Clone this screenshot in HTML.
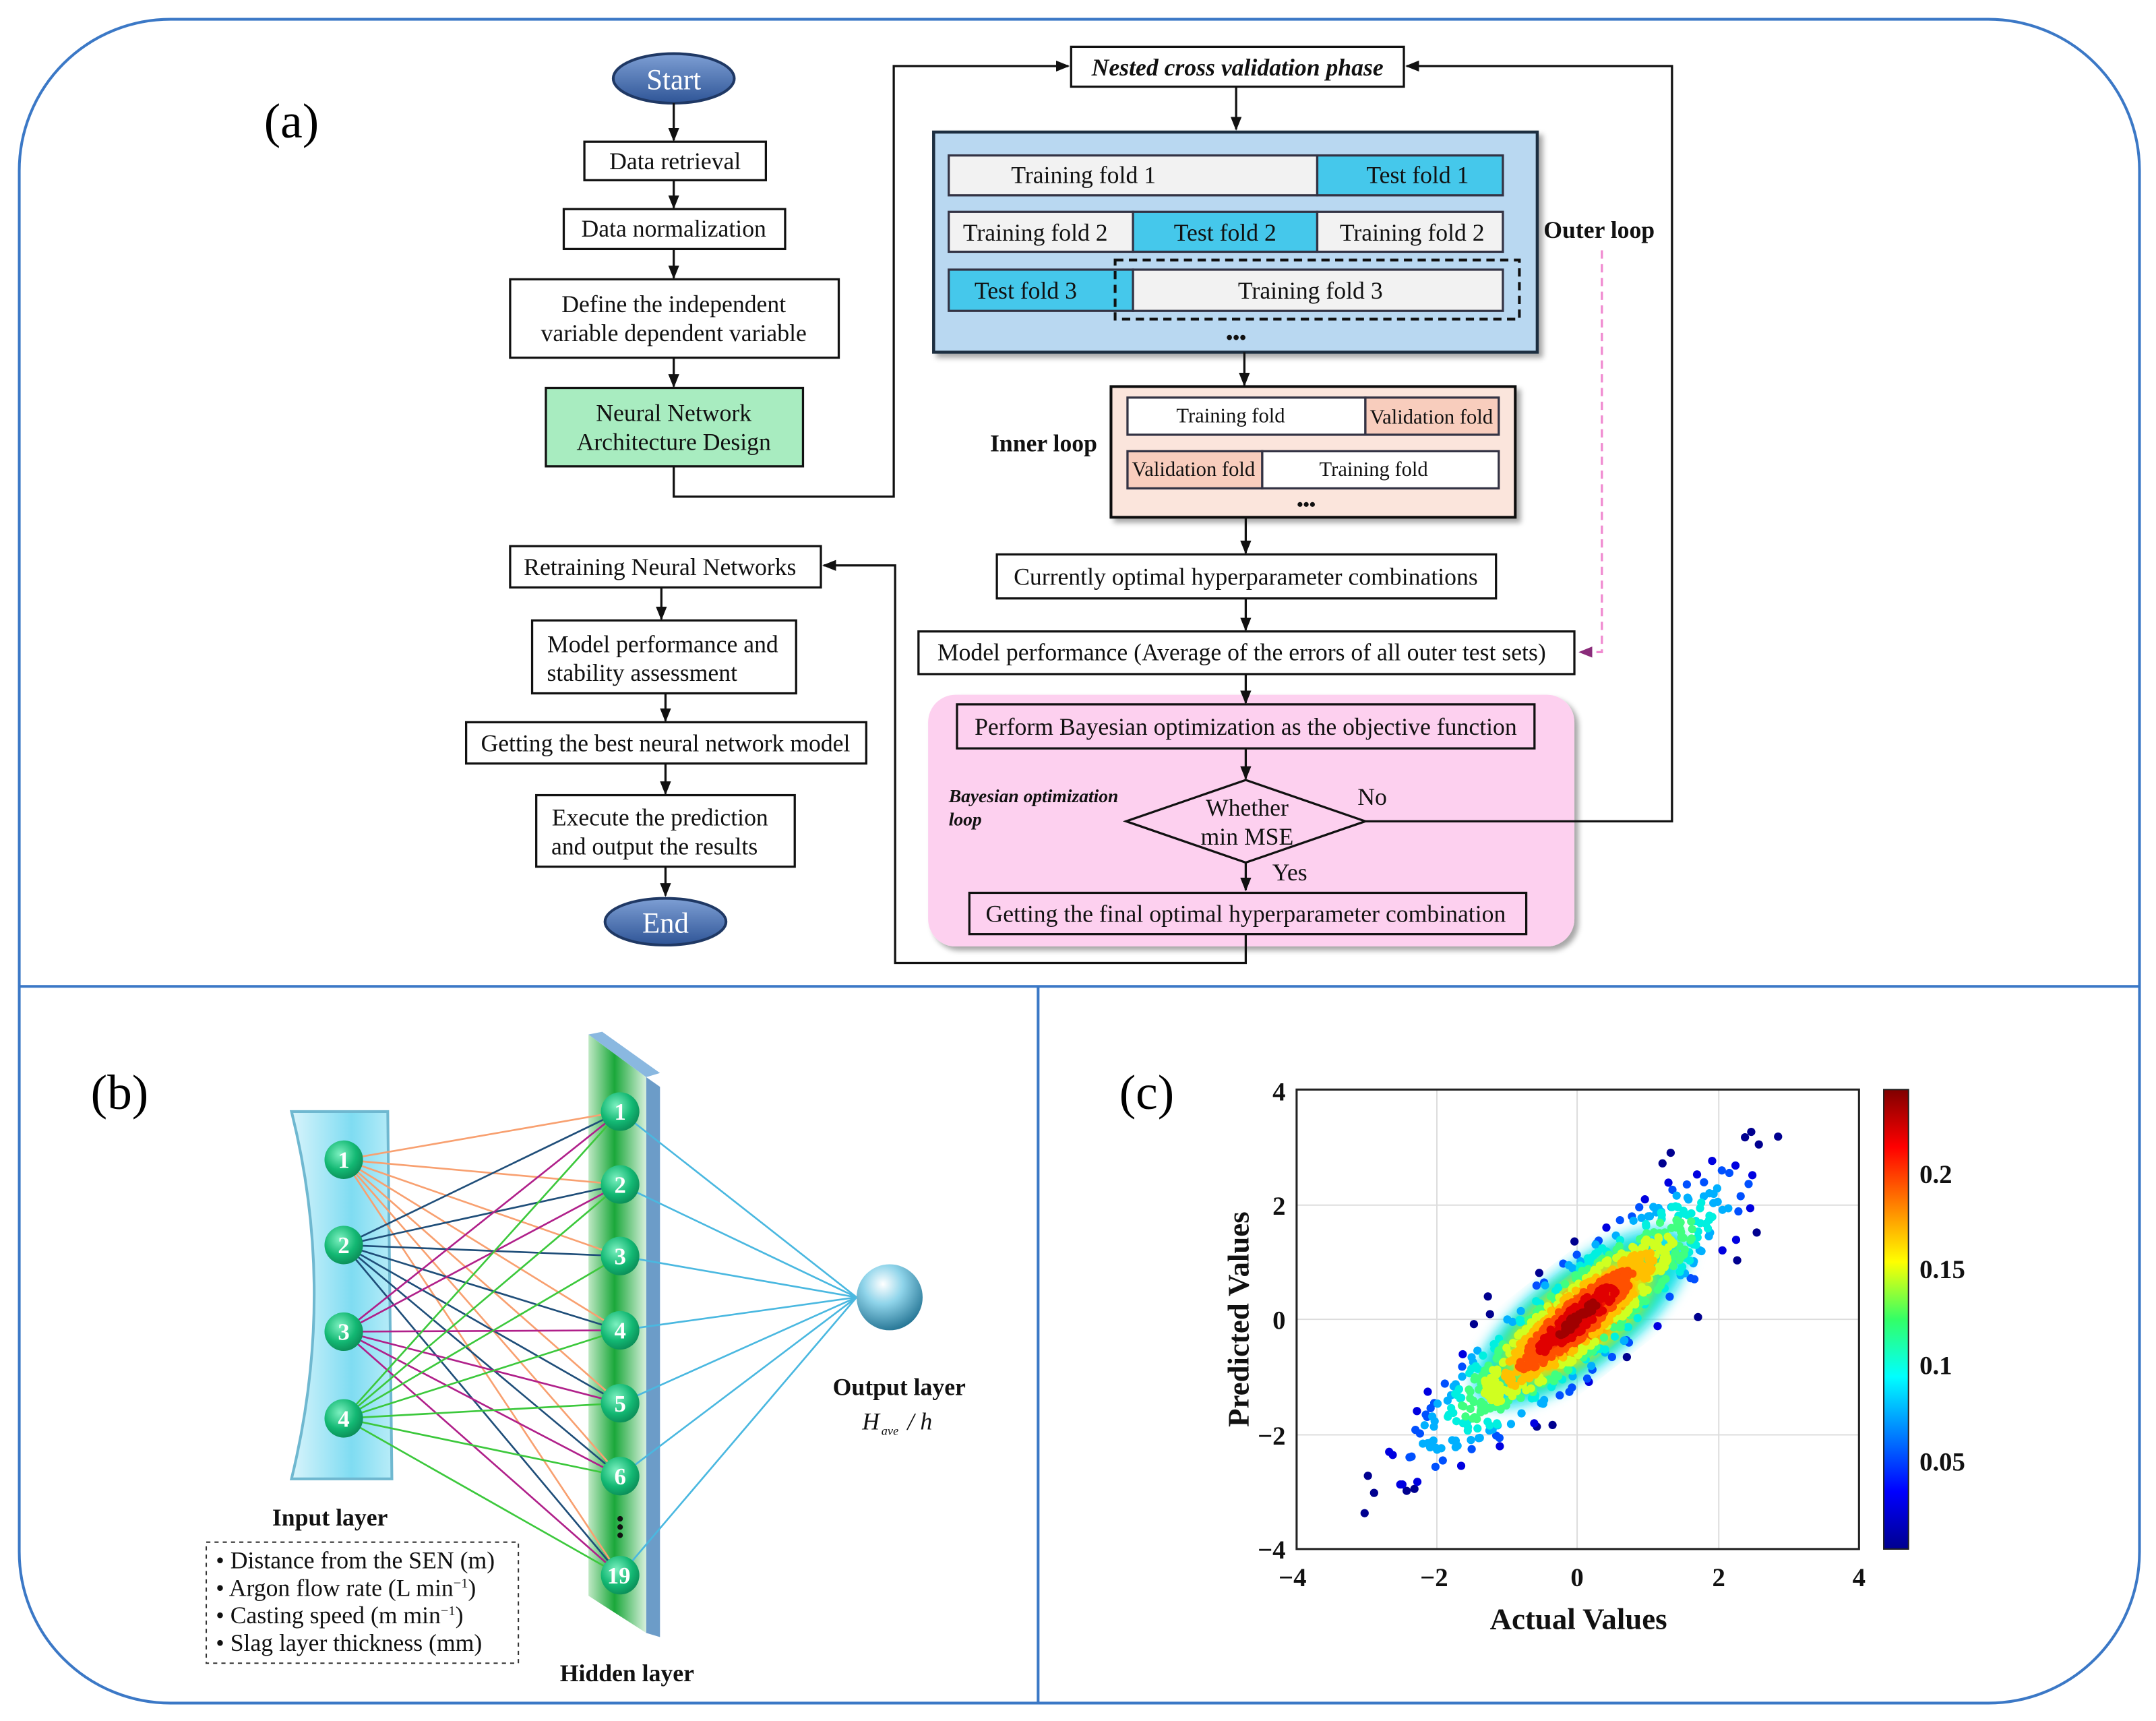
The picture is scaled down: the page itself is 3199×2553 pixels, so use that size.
<!DOCTYPE html>
<html><head><meta charset="utf-8"><style>
html,body{margin:0;padding:0;background:#fff;}
svg{display:block;}
text{font-family:"Liberation Serif",serif;}
</style></head><body>
<svg id="s" width="3199" height="2553" viewBox="0 0 1568 1251" preserveAspectRatio="none" xmlns="http://www.w3.org/2000/svg">
<defs>
<marker id="ar" markerWidth="10" markerHeight="10" refX="9" refY="5" orient="auto" markerUnits="userSpaceOnUse"><path d="M0,1 L10,5 L0,9 Z" fill="#111"/></marker>
<marker id="arp" markerWidth="10" markerHeight="10" refX="9" refY="5" orient="auto" markerUnits="userSpaceOnUse"><path d="M0,1 L10,5 L0,9 Z" fill="#8a2c7a"/></marker>
<linearGradient id="ov" x1="0" y1="0" x2="0" y2="1"><stop offset="0" stop-color="#7e9fd4"/><stop offset="1" stop-color="#2f5597"/></linearGradient>
<linearGradient id="inp" x1="0" y1="0" x2="1" y2="0"><stop offset="0" stop-color="#d8f4fb"/><stop offset="0.6" stop-color="#7fdcf2"/><stop offset="1" stop-color="#b8ecf8"/></linearGradient>
<linearGradient id="hid" x1="0" y1="0" x2="1" y2="0"><stop offset="0" stop-color="#bfe8c4"/><stop offset="0.45" stop-color="#1aa83a"/><stop offset="1" stop-color="#d8f0dc"/></linearGradient>
<radialGradient id="nd" cx="0.4" cy="0.35" r="0.7"><stop offset="0" stop-color="#7cf0c0"/><stop offset="0.6" stop-color="#13b873"/><stop offset="1" stop-color="#0a8a55"/></radialGradient>
<radialGradient id="sph" cx="0.4" cy="0.3" r="0.75"><stop offset="0" stop-color="#ffffff"/><stop offset="0.4" stop-color="#8fd4ea"/><stop offset="1" stop-color="#1f6f8f"/></radialGradient>
<linearGradient id="cb" x1="0" y1="1" x2="0" y2="0"><stop offset="0" stop-color="#00008f"/><stop offset="0.125" stop-color="#0000ff"/><stop offset="0.375" stop-color="#00ffff"/><stop offset="0.5" stop-color="#33ff66"/><stop offset="0.625" stop-color="#ffff00"/><stop offset="0.875" stop-color="#ff0000"/><stop offset="1" stop-color="#800000"/></linearGradient>
<filter id="sh" x="-5%" y="-5%" width="110%" height="115%"><feDropShadow dx="3" dy="3" stdDeviation="2" flood-color="#000" flood-opacity="0.35"/></filter>
<filter id="bl"><feGaussianBlur stdDeviation="5"/></filter>
</defs>

<rect x="14" y="14" width="1542" height="1224" rx="110" fill="none" stroke="#3b78c6" stroke-width="2"/>
<line x1="14" y1="717" x2="1556" y2="717" stroke="#3b78c6" stroke-width="2"/>
<line x1="755" y1="717" x2="755" y2="1238" stroke="#3b78c6" stroke-width="2"/>

<text x="192" y="100" font-size="36">(a)</text>
<text x="66" y="806" font-size="36">(b)</text>
<text x="814" y="806" font-size="36">(c)</text>

<g stroke="#111" stroke-width="1.6" fill="none">
<ellipse cx="490" cy="57" rx="44" ry="18" fill="url(#ov)" stroke="#1f3864" stroke-width="2"/>
<line x1="490" y1="75" x2="490" y2="102" marker-end="url(#ar)"/>
<rect x="425" y="103" width="132" height="28" fill="#fff"/>
<line x1="490" y1="131" x2="490" y2="151" marker-end="url(#ar)"/>
<rect x="410" y="152" width="161" height="29" fill="#fff"/>
<line x1="490" y1="181" x2="490" y2="202" marker-end="url(#ar)"/>
<rect x="371" y="203" width="239" height="57" fill="#fff"/>
<line x1="490" y1="260" x2="490" y2="281" marker-end="url(#ar)"/>
<rect x="397" y="282" width="187" height="57" fill="#a8ecc0"/>
<polyline points="490,339 490,361 650,361 650,48 777,48" marker-end="url(#ar)"/>
<rect x="779" y="34" width="242" height="29" fill="#fff"/>
<line x1="899" y1="63" x2="899" y2="94" marker-end="url(#ar)"/>

<rect x="679" y="96" width="439" height="160" fill="#b9d8f1" stroke="#1f2f40" stroke-width="2.2" filter="url(#sh)"/>
<rect x="690" y="113" width="268" height="29" fill="#f2f2f2" stroke="#334"/>
<rect x="958" y="113" width="135" height="29" fill="#45c8eb" stroke="#334"/>
<rect x="690" y="154" width="134" height="29" fill="#f2f2f2" stroke="#334"/>
<rect x="824" y="154" width="134" height="29" fill="#45c8eb" stroke="#334"/>
<rect x="958" y="154" width="135" height="29" fill="#f2f2f2" stroke="#334"/>
<rect x="690" y="196" width="134" height="30" fill="#45c8eb" stroke="#334"/>
<rect x="824" y="196" width="269" height="30" fill="#f2f2f2" stroke="#334"/>
<rect x="811" y="189" width="294" height="43" stroke-dasharray="6,4" stroke-width="2"/>
<line x1="905" y1="256" x2="905" y2="280" marker-end="url(#ar)"/>

<rect x="808" y="281" width="294" height="95" fill="#fbe5dc" stroke-width="2" filter="url(#sh)"/>
<rect x="820" y="289" width="173" height="27" fill="#fff" stroke="#334"/>
<rect x="993" y="289" width="97" height="27" fill="#f8cdbd" stroke="#334"/>
<rect x="820" y="328" width="98" height="27" fill="#f8cdbd" stroke="#334"/>
<rect x="918" y="328" width="172" height="27" fill="#fff" stroke="#334"/>

<polyline points="1165,182 1165,474 1149,474" stroke="#f08ad0" stroke-dasharray="6,4" marker-end="url(#arp)"/>

<line x1="906" y1="376" x2="906" y2="402" marker-end="url(#ar)"/>
<rect x="725" y="403" width="363" height="32" fill="#fff"/>
<line x1="906" y1="435" x2="906" y2="458" marker-end="url(#ar)"/>
<rect x="668" y="459" width="477" height="31" fill="#fff"/>

<rect x="675" y="505" width="470" height="183" rx="20" fill="#fdd0ef" stroke="none" filter="url(#sh)"/>
<line x1="906" y1="490" x2="906" y2="511" marker-end="url(#ar)"/>
<rect x="696" y="512" width="420" height="32" fill="none"/>
<line x1="906" y1="544" x2="906" y2="566" marker-end="url(#ar)"/>
<polygon points="819,597 906,567 993,597 906,627" fill="#fdd0ef"/>
<polyline points="993,597 1216,597 1216,48 1023,48" marker-end="url(#ar)"/>
<line x1="906" y1="627" x2="906" y2="647" marker-end="url(#ar)"/>
<rect x="705" y="649" width="405" height="30" fill="none"/>
<polyline points="906,679 906,700 651,700 651,411 599,411" marker-end="url(#ar)"/>

<rect x="371" y="397" width="226" height="30" fill="#fff"/>
<line x1="481" y1="427" x2="481" y2="450" marker-end="url(#ar)"/>
<rect x="387" y="451" width="192" height="53" fill="#fff"/>
<line x1="484" y1="504" x2="484" y2="524" marker-end="url(#ar)"/>
<rect x="339" y="525" width="291" height="30" fill="#fff"/>
<line x1="484" y1="555" x2="484" y2="577" marker-end="url(#ar)"/>
<rect x="390" y="578" width="188" height="52" fill="#fff"/>
<line x1="484" y1="630" x2="484" y2="651" marker-end="url(#ar)"/>
<ellipse cx="484" cy="670" rx="44" ry="17" fill="url(#ov)" stroke="#1f3864" stroke-width="2"/>
</g>

<g font-size="17.5" fill="#111" text-anchor="middle">
<text x="490" y="65" fill="#fff" font-size="21">Start</text>
<text x="484" y="678" fill="#fff" font-size="21">End</text>
<text x="491" y="123">Data retrieval</text>
<text x="490" y="172">Data normalization</text>
<text x="490" y="227">Define the independent</text>
<text x="490" y="248">variable dependent variable</text>
<text x="490" y="306">Neural Network</text>
<text x="490" y="327">Architecture Design</text>
<text x="900" y="55" font-weight="bold" font-style="italic">Nested cross validation phase</text>
<text x="788" y="133">Training fold 1</text>
<text x="1031" y="133">Test fold 1</text>
<text x="753" y="175">Training fold 2</text>
<text x="891" y="175">Test fold 2</text>
<text x="1027" y="175">Training fold 2</text>
<text x="746" y="217">Test fold 3</text>
<text x="953" y="217">Training fold 3</text>
<text x="899" y="250" font-weight="bold" font-size="14">•••</text>
<text x="895" y="307" font-size="15">Training fold</text>
<text x="1041" y="308" font-size="15">Validation fold</text>
<text x="868" y="346" font-size="15">Validation fold</text>
<text x="999" y="346" font-size="15">Training fold</text>
<text x="950" y="371" font-weight="bold" font-size="13">•••</text>
<text x="759" y="328" font-weight="bold">Inner loop</text>
<text x="1163" y="173" font-weight="bold">Outer loop</text>
<text x="906" y="425">Currently optimal hyperparameter combinations</text>
<text x="903" y="480">Model performance (Average of the errors of all outer test sets)</text>
<text x="906" y="534">Perform Bayesian optimization as the objective function</text>
<text x="907" y="593">Whether</text>
<text x="907" y="614">min MSE</text>
<text x="998" y="585">No</text>
<text x="938" y="640">Yes</text>
<text x="906" y="670">Getting the final optimal hyperparameter combination</text>
<text x="690" y="583" text-anchor="start" font-weight="bold" font-style="italic" font-size="13.5">Bayesian optimization</text>
<text x="690" y="600" text-anchor="start" font-weight="bold" font-style="italic" font-size="13.5">loop</text>
<text x="480" y="418">Retraining Neural Networks</text>
<text x="482" y="474">Model performance and</text>
<text x="467" y="495">stability assessment</text>
<text x="484" y="546">Getting the best neural network model</text>
<text x="480" y="600">Execute the prediction</text>
<text x="476" y="621">and output the results</text>
</g>

<!-- panel b -->
<path d="M212,808 L282,808 L285,1075 L212,1075 Q245,940 212,808 Z" fill="url(#inp)" stroke="#6fb8d0" stroke-width="2"/>
<polygon points="428,752 470,783 470,1187 428,1160" fill="url(#hid)"/>
<polygon points="470,783 480,790 480,1190 470,1187" fill="#6c9cc8"/>
<polygon points="428,752 438,750 480,780 470,783" fill="#8ab8e0"/>
<g fill="none" stroke-width="1.3">
<g stroke="#f8a070">
<path d="M250,843L451,808M250,843L451,861M250,843L451,913M250,843L451,967M250,843L451,1020M250,843L451,1073M250,843L451,1145"/></g>
<g stroke="#1f4e79">
<path d="M250,905L451,808M250,905L451,861M250,905L451,913M250,905L451,967M250,905L451,1020M250,905L451,1073M250,905L451,1145"/></g>
<g stroke="#b0208a">
<path d="M250,968L451,808M250,968L451,861M250,968L451,967M250,968L451,1020M250,968L451,1073M250,968L451,1145"/></g>
<g stroke="#3cc83c">
<path d="M250,1031L451,808M250,1031L451,861M250,1031L451,913M250,1031L451,967M250,1031L451,1020M250,1031L451,1073M250,1031L451,1145"/></g>
<g stroke="#4ab8e0">
<path d="M451,808L623,943M451,861L623,943M451,913L623,943M451,967L623,943M451,1020L623,943M451,1073L623,943M451,1145L623,943"/></g>
</g>
<g font-size="17" fill="#fff" text-anchor="middle" font-weight="bold">
<circle cx="250" cy="843" r="14" fill="url(#nd)"/><text x="250" y="849">1</text>
<circle cx="250" cy="905" r="14" fill="url(#nd)"/><text x="250" y="911">2</text>
<circle cx="250" cy="968" r="14" fill="url(#nd)"/><text x="250" y="974">3</text>
<circle cx="250" cy="1031" r="14" fill="url(#nd)"/><text x="250" y="1037">4</text>
<circle cx="451" cy="808" r="14" fill="url(#nd)"/><text x="451" y="814">1</text>
<circle cx="451" cy="861" r="14" fill="url(#nd)"/><text x="451" y="867">2</text>
<circle cx="451" cy="913" r="14" fill="url(#nd)"/><text x="451" y="919">3</text>
<circle cx="451" cy="967" r="14" fill="url(#nd)"/><text x="451" y="973">4</text>
<circle cx="451" cy="1020" r="14" fill="url(#nd)"/><text x="451" y="1026">5</text>
<circle cx="451" cy="1073" r="14" fill="url(#nd)"/><text x="451" y="1079">6</text>
<circle cx="451" cy="1145" r="14" fill="url(#nd)"/><text x="450" y="1151">19</text>
</g>
<g fill="#111"><circle cx="451" cy="1104" r="2"/><circle cx="451" cy="1110" r="2"/><circle cx="451" cy="1116" r="2"/></g>
<circle cx="647" cy="943" r="24" fill="url(#sph)"/>
<g font-size="17.5" fill="#111">
<text x="654" y="1014" text-anchor="middle" font-weight="bold">Output layer</text>
<text x="627" y="1039" font-style="italic">H</text><text x="641" y="1043" font-style="italic" font-size="9">ave</text><text x="660" y="1039" font-style="italic"> / h</text>
<text x="240" y="1109" text-anchor="middle" font-weight="bold">Input layer</text>
<text x="456" y="1222" text-anchor="middle" font-weight="bold">Hidden layer</text>
<rect x="150" y="1121" width="227" height="88" fill="none" stroke="#333" stroke-dasharray="3,3"/>
<text x="157" y="1140">• Distance from the SEN (m)</text>
<text x="157" y="1160">• Argon flow rate (L min<tspan font-size="10" dy="-6">−1</tspan><tspan dy="6">)</tspan></text>
<text x="157" y="1180">• Casting speed (m min<tspan font-size="10" dy="-6">−1</tspan><tspan dy="6">)</tspan></text>
<text x="157" y="1200">• Slag layer thickness (mm)</text>
</g>

<!-- panel c -->
<g stroke="#ddd" stroke-width="1">
<line x1="1045" y1="792" x2="1045" y2="1126"/><line x1="1147" y1="792" x2="1147" y2="1126"/><line x1="1250" y1="792" x2="1250" y2="1126"/>
<line x1="943" y1="876" x2="1352" y2="876"/><line x1="943" y1="959" x2="1352" y2="959"/><line x1="943" y1="1043" x2="1352" y2="1043"/>
</g>
<g transform="rotate(-38 1147 959)">
<ellipse cx="1150" cy="960" rx="95" ry="36" fill="#10e0f0" filter="url(#bl)"/>
<ellipse cx="1148" cy="960" rx="75" ry="30" fill="#50f070" filter="url(#bl)"/>
<ellipse cx="1148" cy="960" rx="60" ry="25" fill="#ffe000" filter="url(#bl)"/>
<ellipse cx="1148" cy="960" rx="46" ry="19" fill="#ff8000" filter="url(#bl)"/>
<ellipse cx="1148" cy="960" rx="32" ry="14" fill="#f01000" filter="url(#bl)"/>
<ellipse cx="1148" cy="960" rx="14" ry="7" fill="#a00000" filter="url(#bl)"/>
</g>
<g id="dots" fill="#0010c0"></g>
<rect x="943" y="792" width="409" height="334" fill="none" stroke="#222" stroke-width="1.5"/>
<rect x="1370" y="792" width="18" height="334" fill="url(#cb)" stroke="#222" stroke-width="1"/>
<g font-size="19" font-weight="bold" fill="#111">
<text x="1396" y="860">0.2</text><text x="1396" y="929">0.15</text><text x="1396" y="999">0.1</text><text x="1396" y="1069">0.05</text>
<text x="935" y="800" text-anchor="end">4</text><text x="935" y="883" text-anchor="end">2</text><text x="935" y="966" text-anchor="end">0</text><text x="935" y="1050" text-anchor="end">−2</text><text x="935" y="1133" text-anchor="end">−4</text>
<text x="940" y="1153" text-anchor="middle">−4</text><text x="1043" y="1153" text-anchor="middle">−2</text><text x="1147" y="1153" text-anchor="middle">0</text><text x="1250" y="1153" text-anchor="middle">2</text><text x="1352" y="1153" text-anchor="middle">4</text>
<text x="1148" y="1184" text-anchor="middle" font-size="22">Actual Values</text>
<text transform="translate(908 959) rotate(-90)" text-anchor="middle" font-size="22">Predicted Values</text>
</g>
</svg>
<script>
(function(){
var s=98765;function r(){s=(s*1103515245+12345)%2147483648;return s/2147483648;}
function g(){var u=r()||1e-6,v=r();return Math.sqrt(-2*Math.log(u))*Math.cos(6.2832*v);}
var ns="http://www.w3.org/2000/svg",d=document.getElementById("dots");
var cols=["#00008f","#0000e0","#0050ff","#00b0ff","#00f0e0","#40ff80","#d0ff20","#ffc000","#ff5000","#e00000","#a00000"];
var pts=[];
for(var i=0;i<1100;i++){var x=g()*1.0,e=g()*0.48,y=x*0.95+e;var dd=Math.sqrt(x*x/1.0+e*e/0.23);pts.push([x,y,dd]);}
pts.sort(function(a,b){return b[2]-a[2];});
pts.forEach(function(p){if(Math.abs(p[0])>3.8||Math.abs(p[1])>3.8)return;
var k=Math.max(0,Math.min(10,Math.round(10.5-p[2]*3.6)));
var c=document.createElementNS(ns,"circle");c.setAttribute("cx",1147+p[0]*51.1);c.setAttribute("cy",959-p[1]*41.75);c.setAttribute("r",3);c.setAttribute("fill",cols[k]);d.appendChild(c);});
})();
</script>
</body></html>
